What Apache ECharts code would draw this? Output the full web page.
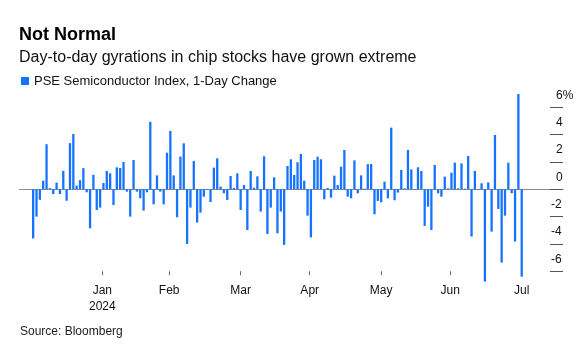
<!DOCTYPE html>
<html>
<head>
<meta charset="utf-8">
<script src="https://cdn.jsdelivr.net/npm/echarts@6/dist/echarts.min.js"></script>
<style>
  html, body { margin: 0; padding: 0; background: #fff; }
  #chart { width: 586px; height: 348px; }
</style>
</head>
<body>
<div id="chart"></div>
<script>
// Daily % change of the PSE Semiconductor Index, Jan 2 - Aug 1, 2024 (one value per trading day)
const dailyChange = [
  -3.6, -2.0, -0.77, 0.63, 3.3, 0.08, -0.35, 0.49, -0.35, 1.35,
  -0.84, 3.38, 4.05, 0.27, 0.67, 1.55, -0.22, -2.86, 1.06, -1.52,
  -1.34, 0.46, 1.34, 1.17, -1.15, 1.61, 1.56, 2.0, -0.17, -2.0,
  2.15, -0.17, -0.66, -1.56, -0.22, 4.95, -1.1, 1.02, -0.17, -1.1,
  2.68, 4.27, 1.02, -2.05, 2.4, 3.37, -4.0, -1.34, 2.07, -2.44,
  -1.71, -0.54, -0.05, -0.93, 1.59, 2.27, 0.2, -0.29, -0.78, 0.98,
  0.1, 1.17, -1.51, 0.32, -2.98, 1.34, 0.12, 0.95, -1.63, 2.42,
  -3.27, -1.34, 0.88, -3.22, -1.63, -4.07, 1.71, 2.2, 1.05, 1.98,
  2.59, 0.63, -1.93, -3.52, 2.15, 2.39, 2.2, -0.73, 0.1, -0.61,
  1.0, 0.32, 1.66, 2.88, -0.54, -0.66, 2.12, -0.29, 1.02, 0.05,
  1.84, 1.85, -1.83, -0.85, -0.95, 0.56, -0.66, 4.52, -0.8, -0.24,
  1.42, 0.07, 2.88, 1.46, -0.05, 1.61, 1.34, -2.68, -1.27, -2.98,
  1.78, -0.29, -0.54, 0.93, 0.07, 1.22, 1.95, 0.07, 1.9, 0.05,
  2.44, -3.46, 1.34, -0.05, 0.44, -6.76, 0.51, -3.1, 3.98, -1.44,
  -5.37, -1.93, 1.95, -0.29, -3.83, 6.98, -6.4
];

// US market holidays inside the range
const marketHolidays = ['2024-01-15', '2024-02-19', '2024-03-29', '2024-05-27', '2024-06-19', '2024-07-04'];
const firstDay = '2024-01-02';
const lastDay = '2024-08-01';

// Month boundaries on the calendar axis and the month names written under them
const monthTicks = ['2024-02-01', '2024-03-01', '2024-04-01', '2024-05-01', '2024-06-01', '2024-07-01', '2024-08-01'];
const monthLabels = ['Jan\n2024', 'Feb', 'Mar', 'Apr', 'May', 'Jun', 'Jul'];

// Right-hand percent axis
const yMin = -6, yMax = 6, yStep = 2;

const seriesName = 'PSE Semiconductor Index, 1-Day Change';
const titleText = 'Not Normal';
const subtitleText = 'Day-to-day gyrations in chip stocks have grown extreme';
const sourceText = 'Source: Bloomberg';

// Trading-day calendar for the category axis
const DAY = 86400000;
const toMs = s => Date.parse(s + 'T00:00:00Z');
const yearStart = toMs('2024-01-01');
const dayNo = s => Math.round((toMs(s) - yearStart) / DAY);
const tradingDays = [];
for (let t = toMs(firstDay); t <= toMs(lastDay); t += DAY) {
  const d = new Date(t);
  const wd = d.getUTCDay();
  const iso = d.toISOString().slice(0, 10);
  if (wd === 0 || wd === 6 || marketHolidays.includes(iso)) continue;
  tradingDays.push(iso);
}

// Calendar axis runs in day numbers counted from Jan 1
const tickDays = monthTicks.map(dayNo);
const labelByDay = {};
tickDays.forEach((v, i) => { labelByDay[v] = monthLabels[i]; });

const FONT = "'Liberation Sans', Arial, sans-serif";
const BLUE = '#1673ff';
const TOP = 107.4, BOTTOM = 76.8;

const chart = echarts.init(document.getElementById('chart'), null, { renderer: 'canvas' });
chart.setOption({
  animation: false,
  backgroundColor: '#ffffff',
  textStyle: { fontFamily: FONT },
  title: {
    text: titleText,
    subtext: subtitleText,
    left: 19,
    top: 26,
    padding: 0,
    itemGap: 6,
    textStyle: { fontFamily: FONT, fontSize: 18, fontWeight: 'bold', color: '#000' },
    subtextStyle: { fontFamily: FONT, fontSize: 16, color: '#111' }
  },
  legend: {
    left: 21,
    top: 74.5,
    padding: 0,
    icon: 'rect',
    itemWidth: 8,
    itemHeight: 8,
    selectedMode: false,
    textStyle: { fontFamily: FONT, fontSize: 13, color: '#111' },
    data: [seriesName]
  },
  graphic: [{
    type: 'text',
    left: 20,
    top: 326,
    style: { text: sourceText, font: '12px ' + FONT, fill: '#222' }
  }],
  grid: [
    // bars
    { left: 31.5, right: 62.6, top: TOP, bottom: BOTTOM },
    // zero line and percent axis
    { left: 19.5, right: 23, top: TOP, bottom: BOTTOM },
    // calendar months
    { left: 33.2, right: 64.3, top: TOP, bottom: BOTTOM }
  ],
  xAxis: [
    {
      gridIndex: 0, type: 'category', data: tradingDays,
      axisLine: { show: false }, axisTick: { show: false }, axisLabel: { show: false }, splitLine: { show: false }
    },
    {
      gridIndex: 1, type: 'value', min: 0, max: 1,
      axisLine: { show: true, onZero: true, lineStyle: { color: '#8c8c8c', width: 1 } },
      axisTick: { show: false }, axisLabel: { show: false }, splitLine: { show: false }
    },
    {
      gridIndex: 2, type: 'value', position: 'bottom',
      min: dayNo(firstDay), max: dayNo(lastDay),
      axisLine: { show: false, onZero: false },
      axisTick: { show: true, length: 4, customValues: tickDays, lineStyle: { color: '#666', width: 1 } },
      axisLabel: {
        show: true, customValues: tickDays, margin: 11, fontSize: 12, lineHeight: 16,
        color: '#111', fontFamily: FONT, hideOverlap: false,
        showMinLabel: true, showMaxLabel: true,
        formatter: v => labelByDay[Math.round(v)] || ''
      },
      splitLine: { show: false }
    }
  ],
  yAxis: [
    { gridIndex: 0, type: 'value', min: yMin, max: yMax, interval: yStep, show: false },
    {
      gridIndex: 1, type: 'value', position: 'right', min: yMin, max: yMax, interval: yStep,
      axisLine: { show: false, onZero: false },
      axisTick: { show: true, inside: true, length: 13, lineStyle: { color: '#555', width: 1 } },
      axisLabel: {
        show: true, inside: false, margin: -12, align: 'left', verticalAlign: 'bottom',
        padding: [0, 0, 6, 0], fontSize: 12, color: '#111', fontFamily: FONT,
        formatter: v => {
          const txt = v === yMax ? v + '%' : String(v);
          return v < 0 ? '{n|' + txt + '}' : '{p|' + txt + '}';
        },
        rich: {
          p: { padding: [0, 0, 0, 5], fontSize: 12, color: '#111', fontFamily: FONT },
          n: { fontSize: 12, color: '#111', fontFamily: FONT }
        }
      },
      splitLine: { show: false }
    },
    { gridIndex: 2, type: 'value', min: yMin, max: yMax, show: false }
  ],
  series: [{
    name: seriesName,
    type: 'bar',
    xAxisIndex: 0,
    yAxisIndex: 0,
    data: dailyChange,
    barWidth: 2.3,
    clip: false,
    itemStyle: { color: BLUE },
    emphasis: { disabled: true }
  }]
});
</script>
</body>
</html>
